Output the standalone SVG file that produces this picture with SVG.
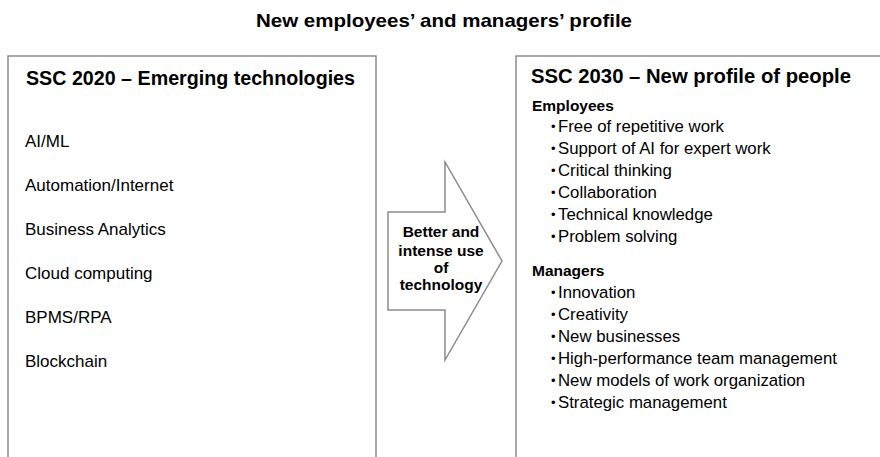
<svg xmlns="http://www.w3.org/2000/svg" width="880" height="457" viewBox="0 0 880 457">
<style>
text{font-family:"Liberation Sans",Arial,sans-serif;fill:#000}
.box{fill:#fff;stroke:#8c8c8c;stroke-width:1.5}
.b{font-weight:bold}
.h{font-size:20px;font-weight:bold}
.li{font-size:17px}
.ri{font-size:16.8px}
.bu{font-size:13px}
.at{font-size:15.5px;font-weight:bold;text-anchor:middle}
</style>
<rect width="880" height="457" fill="#fff"/>
<text class="b" x="256" y="27" font-size="19" textLength="376" lengthAdjust="spacingAndGlyphs">New employees’ and managers’ profile</text>
<g id="left-box">
<rect class="box" x="8" y="56" width="368" height="410"/>
<text class="h" x="26" y="85" textLength="329" lengthAdjust="spacingAndGlyphs">SSC 2020 – Emerging technologies</text>
<text class="li" x="25" y="147">AI/ML</text>
<text class="li" x="25" y="191">Automation/Internet</text>
<text class="li" x="25" y="235">Business Analytics</text>
<text class="li" x="25" y="279">Cloud computing</text>
<text class="li" x="25" y="323">BPMS/RPA</text>
<text class="li" x="25" y="367">Blockchain</text>
</g>
<g id="connectors">
<g id="arrow">
<polygon class="box" points="388,212 445,212 445,162 502,261 445,360 445,310 388,310"/>
<text class="at" x="441" y="237">Better and</text>
<text class="at" x="441" y="256">intense use</text>
<text class="at" x="441" y="273">of</text>
<text class="at" x="441" y="290">technology</text>
</g>
</g>
<g id="right-box">
<rect class="box" x="516" y="56" width="380" height="410"/>
<text class="h" x="531" y="83" textLength="320" lengthAdjust="spacingAndGlyphs">SSC 2030 – New profile of people</text>
<text class="b" x="532" y="111" font-size="15.5">Employees</text>
<g class="ri">
<text class="bu" x="551" y="131">•</text><text x="558" y="132">Free of repetitive work</text>
<text class="bu" x="551" y="153">•</text><text x="558" y="154">Support of AI for expert work</text>
<text class="bu" x="551" y="175">•</text><text x="558" y="176">Critical thinking</text>
<text class="bu" x="551" y="197">•</text><text x="558" y="198">Collaboration</text>
<text class="bu" x="551" y="219">•</text><text x="558" y="220">Technical knowledge</text>
<text class="bu" x="551" y="241">•</text><text x="558" y="242">Problem solving</text>
</g>
<text class="b" x="532" y="276" font-size="15.5">Managers</text>
<g class="ri">
<text class="bu" x="551" y="297">•</text><text x="558" y="298">Innovation</text>
<text class="bu" x="551" y="319">•</text><text x="558" y="320">Creativity</text>
<text class="bu" x="551" y="341">•</text><text x="558" y="342">New businesses</text>
<text class="bu" x="551" y="363">•</text><text x="558" y="364">High-performance team management</text>
<text class="bu" x="551" y="385">•</text><text x="558" y="386">New models of work organization</text>
<text class="bu" x="551" y="407">•</text><text x="558" y="408">Strategic management</text>
</g>
</g>
</svg>
